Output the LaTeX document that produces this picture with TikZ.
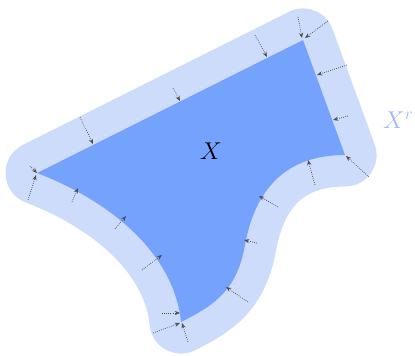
\documentclass[tikz,border=0pt]{standalone}
\usetikzlibrary{arrows.meta}
\definecolor{bandblue}{HTML}{CEDCFB}
\definecolor{innerblue}{HTML}{74A2FC}
\definecolor{labelblue}{HTML}{9DB9F5}
\definecolor{arrowgray}{HTML}{505050}
\tikzset{
  nearest/.style={draw=arrowgray, line width=0.6pt, dash pattern=on 0.7pt off 1.1pt,
    -{Stealth[length=4.5pt,width=3.6pt]}},
}
\newcommand{\shapeX}{(37,173) -- (303,40) -- (345,155)
  .. controls (285,155) and (255,190) .. (245,245)
  .. controls (237,290) and (215,305) .. (181,322)
  .. controls (175,260) and (120,205) .. (37,173) -- cycle}
\begin{document}
\begin{tikzpicture}[x=0.03cm,y=-0.03cm]
\useasboundingbox (0,0) rectangle (415,355);
\path[draw=bandblue, fill=bandblue, line width=1.89cm, line join=round] \shapeX;
\fill[innerblue] \shapeX;
% arrows (tail -> tip on boundary)
\draw[nearest] (30,166) -- (37,173);
\draw[nearest] (28,200) -- (36,175);
\draw[nearest] (80,117) -- (93,144);
\draw[nearest] (173,88) -- (180,101);
\draw[nearest] (255,35) -- (267,57);
\draw[nearest] (298,17) -- (302,38);
\draw[nearest] (328,21) -- (305,38);
\draw[nearest] (347,65) -- (317,75);
\draw[nearest] (348,116) -- (333,120);
\draw[nearest] (369,177) -- (346,156);
\draw[nearest] (315,185) -- (308,160);
\draw[nearest] (278,207) -- (259,196);
\draw[nearest] (257,243) -- (244,240);
\draw[nearest] (248,302) -- (226,287);
\draw[nearest] (188,342) -- (182,323);
\draw[nearest] (153,333) -- (180,323);
\draw[nearest] (162,313) -- (180,313);
\draw[nearest] (142,270) -- (162,255);
\draw[nearest] (115,229) -- (126,216);
\draw[nearest] (72,202) -- (78,188);
\node (X) at (211,151) {\fontsize{20}{24}\selectfont$X$};
\node[text=labelblue, anchor=west, inner sep=0pt] (Xr) at (383,120) {\fontsize{20}{24}\selectfont$X^r$};
\end{tikzpicture}
\end{document}
